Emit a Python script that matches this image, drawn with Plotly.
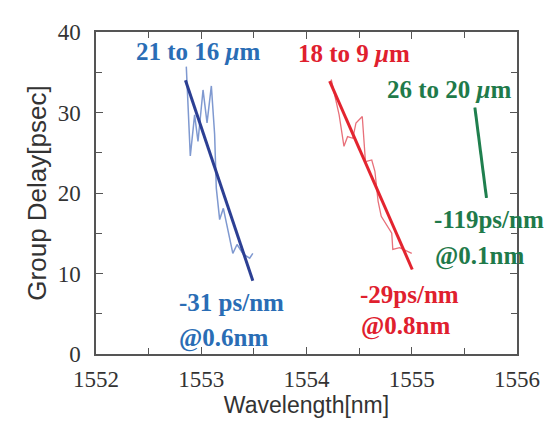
import plotly.graph_objects as go

# Measured group delay (thin traces)
blue_wl = [1552.858, 1552.896, 1552.937, 1552.969, 1553.017, 1553.055, 1553.096, 1553.127,
           1553.143, 1553.175, 1553.210, 1553.300, 1553.340, 1553.400, 1553.460, 1553.490]
blue_gd = [35.7, 24.6, 29.7, 26.4, 32.8, 28.7, 33.3, 27.3,
           20.6, 16.7, 18.1, 12.5, 13.6, 12.4, 11.9, 12.5]

red_wl = [1554.235, 1554.310, 1554.356, 1554.390, 1554.440, 1554.470, 1554.530, 1554.560,
          1554.620, 1554.650, 1554.680, 1554.710, 1554.810, 1554.820, 1554.885, 1555.000]
red_gd = [34.1, 29.7, 25.8, 27.0, 26.8, 28.7, 29.5, 23.9,
          24.1, 22.7, 19.0, 17.1, 15.0, 13.0, 13.2, 12.5]

green_wl = [1555.600, 1555.710]
green_gd = [30.6, 19.4]

# Linear fits (thick lines)
blue_fit_wl = [1552.85, 1553.49]
blue_fit_gd = [34.0, 9.1]
red_fit_wl = [1554.22, 1555.005]
red_fit_gd = [33.9, 10.5]
green_fit_wl = [1555.60, 1555.71]
green_fit_gd = [30.6, 19.4]

x_ticks = [1552, 1553, 1554, 1555, 1556]
y_ticks = [0, 10, 20, 30, 40]

BLUE_T = "#2a6db5"
BLUE_L = "#2c3f93"
BLUE_D = "#7f99d0"
RED_T = "#e0202e"
RED_L = "#e3242f"
RED_D = "#e8707a"
GREEN_T = "#1f7a4a"
GREEN_L = "#1f7f4e"

SERIF = "Liberation Serif, Times New Roman, DejaVu Serif, serif"
SANS = "Liberation Sans, Arial, DejaVu Sans, sans-serif"

fig = go.Figure()
fig.add_trace(go.Scatter(x=blue_wl, y=blue_gd, mode="lines", line=dict(color=BLUE_D, width=1.5)))
fig.add_trace(go.Scatter(x=red_wl, y=red_gd, mode="lines", line=dict(color=RED_D, width=1.3)))
fig.add_trace(go.Scatter(x=green_wl, y=green_gd, mode="lines", line=dict(color=GREEN_L, width=1.3)))
fig.add_trace(go.Scatter(x=blue_fit_wl, y=blue_fit_gd, mode="lines", line=dict(color=BLUE_L, width=3)))
fig.add_trace(go.Scatter(x=red_fit_wl, y=red_fit_gd, mode="lines", line=dict(color=RED_L, width=3)))
fig.add_trace(go.Scatter(x=green_fit_wl, y=green_fit_gd, mode="lines", line=dict(color=GREEN_L, width=3)))

anns = [
    ("21 to 16 <i>μ</i>m", 1552.969, 37.52, BLUE_T),
    ("18 to 9 <i>μ</i>m", 1554.451, 37.39, RED_T),
    ("26 to 20 <i>μ</i>m", 1555.354, 32.80, GREEN_T),
    ("-119ps/nm", 1555.734, 16.65, GREEN_T),
    ("@0.1nm", 1555.639, 12.17, GREEN_T),
    ("-31 ps/nm", 1553.283, 6.34, BLUE_T),
    ("@0.6nm", 1553.207, 1.99, BLUE_T),
    ("-29ps/nm", 1554.974, 7.33, RED_T),
    ("@0.8nm", 1554.936, 3.48, RED_T),
]
for txt, ax_, ay_, col in anns:
    fig.add_annotation(x=ax_, y=ay_, xref="x", yref="y", text="<b>" + txt + "</b>",
                       showarrow=False, xanchor="center", yanchor="middle",
                       font=dict(family=SERIF, size=25, color=col))

axis_common = dict(
    showline=True, linecolor="#555555", linewidth=1.5, mirror="ticks",
    ticks="inside", ticklen=7, tickwidth=1.2, tickcolor="#555555",
    showgrid=False, zeroline=False, automargin=False,
    tickfont=dict(family=SERIF, size=23, color="#333333"),
)

fig.update_layout(
    width=556, height=421,
    margin=dict(l=88, r=47, t=24, b=75),
    paper_bgcolor="white", plot_bgcolor="white",
    font=dict(family=SERIF, size=23, color="#333333"),
    showlegend=False,
    xaxis=dict(range=[1552, 1556], tickvals=x_ticks, ticktext=[str(v) for v in x_ticks],
               minor=dict(dtick=0.5, ticks="inside", ticklen=6, tickcolor="#555555", showgrid=False),
               title=dict(text="Wavelength[nm]", standoff=0,
                          font=dict(family=SANS, size=23, color="#333333")),
               ticklabelstandoff=4,
               **axis_common),
    yaxis=dict(range=[0, 40], tickvals=y_ticks, ticktext=[str(v) for v in y_ticks],
               minor=dict(dtick=5, ticks="inside", ticklen=6, tickcolor="#555555", showgrid=False),
               title=dict(text="Group Delay[psec]", standoff=4,
                          font=dict(family=SANS, size=26, color="#333333")),
               ticklabelstandoff=9,
               **axis_common),
)

fig.write_html("out.html")
